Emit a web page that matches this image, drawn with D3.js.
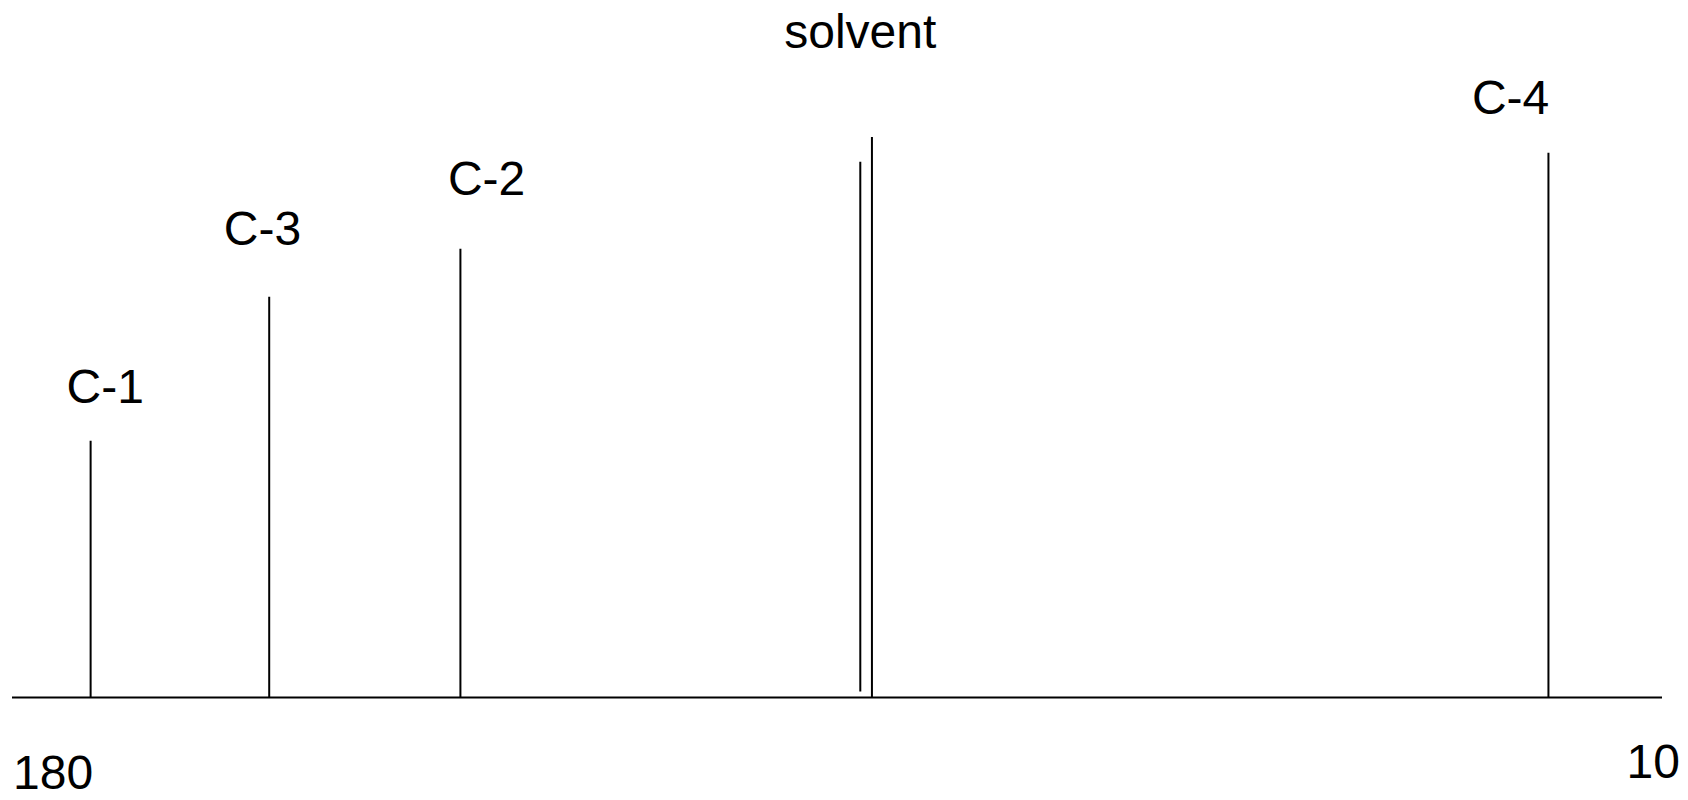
<!DOCTYPE html>
<html>
<head>
<meta charset="utf-8">
<script src="https://cdn.jsdelivr.net/npm/d3@7"></script>
<style>
  html, body { margin: 0; padding: 0; background: #fff; }
  svg { display: block; }
  text { font-family: "Liberation Sans", Arial, sans-serif; fill: #000; }
</style>
</head>
<body>
<svg id="chart" width="1688" height="800"></svg>
<script>
// 13C spectrum stick plot: chemical shift (ppm) runs right-to-left
const peakLabels  = ["C-1", "C-3", "C-2", "C-4"];
const peakShift   = [171.9, 153.5, 133.8, 21.7];
const peakHeight  = [42.8, 66.8, 74.8, 90.8];
const labelShift  = [170.4, 154.2, 131.1, 25.6];
const labelLevel  = [49.1, 75.4, 83.75, 97.25];

// solvent doublet
const solventShift  = [92.6, 91.4];
const solventHeight = [89.3, 93.4];
const solventFloor  = [1.0, 0];
const solventLabel  = "solvent";
const solventLabelShift = 92.6;
const solventLabelLevel = 108.25;

const axisEnds = [180, 10];
const fontSize = 48;

const svg = d3.select("#chart");

const x = d3.scaleLinear().domain([180, 10]).range([12, 1662]);
const y = d3.scaleLinear().domain([0, 100]).range([697.5, 97.5]);

// baseline
svg.append("line")
  .attr("x1", x(axisEnds[0])).attr("x2", x(axisEnds[1]))
  .attr("y1", y(0)).attr("y2", y(0))
  .attr("stroke", "#000").attr("stroke-width", 2);

// compound peaks
svg.selectAll("line.peak")
  .data(peakShift)
  .join("line")
  .attr("class", "peak")
  .attr("x1", d => x(d)).attr("x2", d => x(d))
  .attr("y1", y(0))
  .attr("y2", (d, i) => y(peakHeight[i]))
  .attr("stroke", "#000").attr("stroke-width", 2);

// solvent peaks
svg.selectAll("line.solvent")
  .data(solventShift)
  .join("line")
  .attr("class", "solvent")
  .attr("x1", d => x(d)).attr("x2", d => x(d))
  .attr("y1", (d, i) => y(solventFloor[i]))
  .attr("y2", (d, i) => y(solventHeight[i]))
  .attr("stroke", "#000").attr("stroke-width", 2);

// peak labels
svg.selectAll("text.peak-label")
  .data(peakLabels)
  .join("text")
  .attr("class", "peak-label")
  .attr("x", (d, i) => x(labelShift[i]))
  .attr("y", (d, i) => y(labelLevel[i]))
  .attr("text-anchor", "middle")
  .attr("font-size", fontSize)
  .text(d => d);

svg.append("text")
  .attr("x", x(solventLabelShift))
  .attr("y", y(solventLabelLevel))
  .attr("text-anchor", "middle")
  .attr("font-size", fontSize)
  .text(solventLabel);

// axis end labels
svg.append("text")
  .attr("x", x(axisEnds[0]) + 1)
  .attr("y", 789)
  .attr("text-anchor", "start")
  .attr("font-size", fontSize)
  .text(axisEnds[0]);

svg.append("text")
  .attr("x", x(axisEnds[1]) + 18)
  .attr("y", 778)
  .attr("text-anchor", "end")
  .attr("font-size", fontSize)
  .text(axisEnds[1]);
</script>
</body>
</html>
